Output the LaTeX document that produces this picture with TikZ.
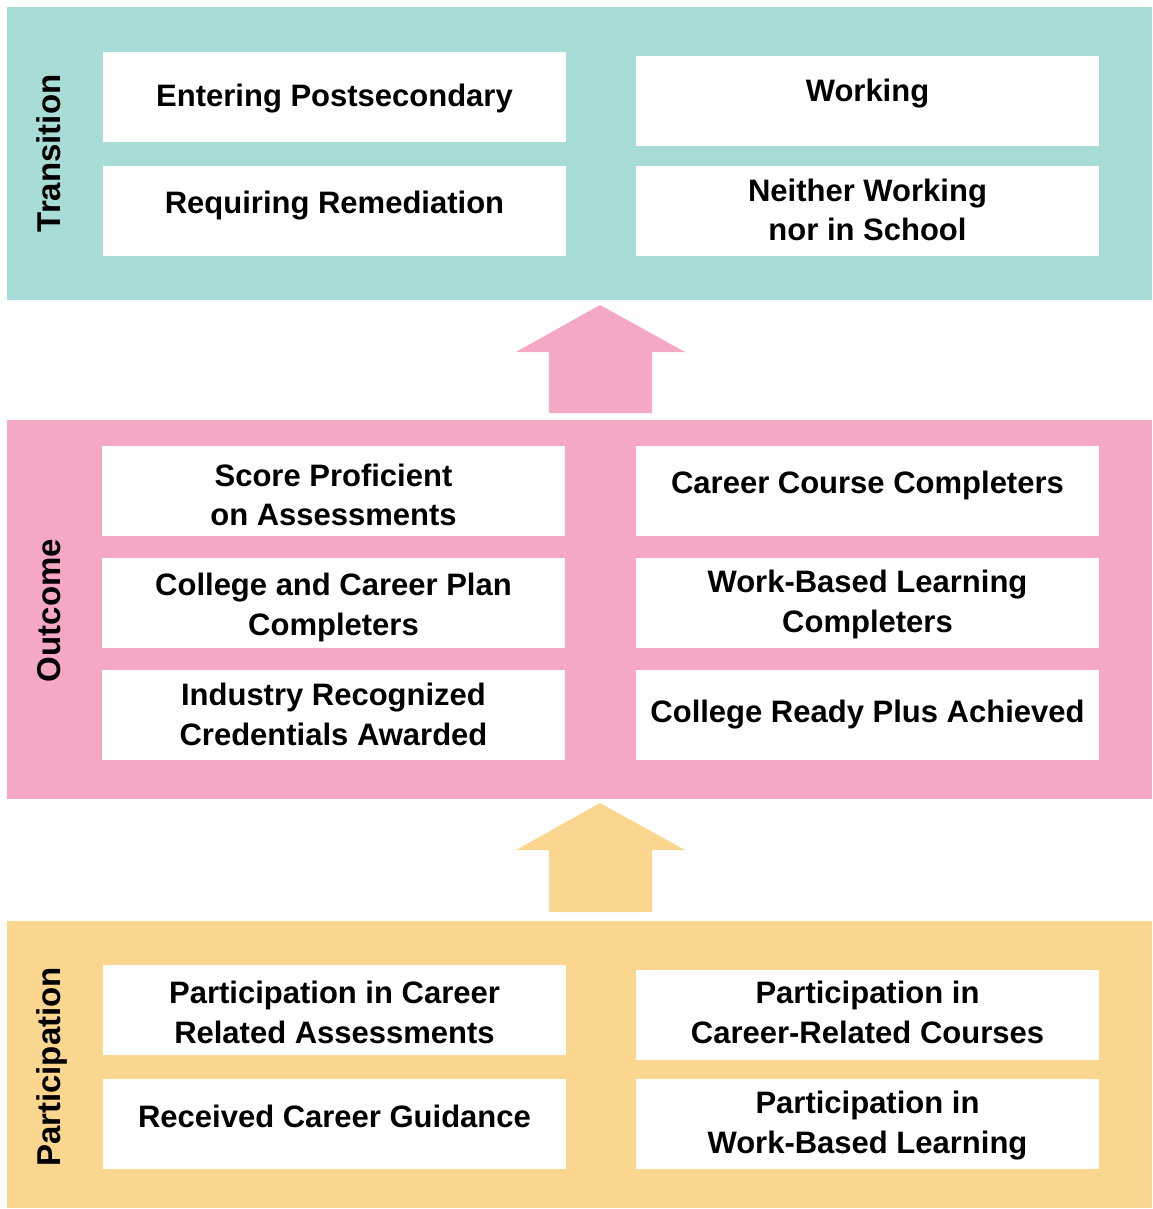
\documentclass[tikz,border=0pt]{standalone}
\usepackage{fontspec}
\setmainfont{Liberation Sans}
\definecolor{tealbg}{HTML}{A8DCD6}
\definecolor{pinkbg}{HTML}{F5A8C6}
\definecolor{yellowbg}{HTML}{FBD68F}
\newcommand\sline[1]{\smash{#1}}
\begin{document}
\begin{tikzpicture}[x=1pt,y=-1pt,
  panel/.style={inner sep=0pt, outer sep=0pt, minimum width=1145pt},
  wbox/.style={fill=white, inner sep=0pt, outer sep=0pt, minimum width=463pt, minimum height=90pt},
  btext/.style={inner sep=0pt, align=center, font=\fontsize{31}{39.5}\selectfont\bfseries},
  side/.style={inner sep=0pt, rotate=90, anchor=base, font=\fontsize{33}{40}\selectfont\bfseries},
  uparrow/.style={draw=none}]
\useasboundingbox (0,0) rectangle (1152,1209);
% panels
\node[panel, fill=tealbg, minimum height=293pt] (ptrans) at (579.5,153.5) {};
\node[panel, fill=pinkbg, minimum height=379pt] (pout) at (579.5,609.5) {};
\node[panel, fill=yellowbg, minimum height=287pt] (ppart) at (579.5,1064.5) {};
% side labels
\node[side] (ltrans) at (60,153.5) {Transition};
\node[side] (lout) at (60,610.5) {Outcome};
\node[side] (lpart) at (60,1067) {Participation};
% block arrows
\fill[pinkbg, uparrow] (600,305) -- (685,352) -- (652,352) -- (652,413) -- (549,413) -- (549,352) -- (516,352) -- cycle;
\fill[yellowbg, uparrow] (600,803) -- (685,850) -- (652,850) -- (652,912) -- (549,912) -- (549,850) -- (516,850) -- cycle;
% transition boxes
\node[wbox] (tb1) at (334.5,97) {};
\node[wbox] (tb2) at (334.5,211) {};
\node[wbox] (tb3) at (867.5,101) {};
\node[wbox] (tb4) at (867.5,211) {};
\node[btext] (tt1) at (334.5,107) {\sline{Entering Postsecondary}};
\node[btext] (tt2) at (334.5,213) {\sline{Requiring Remediation}};
\node[btext] (tt3) at (867.5,102) {\sline{Working}};
\node[btext] (tt4) at (867.5,221) {\sline{Neither Working}\\\sline{nor in School}};
% outcome boxes
\node[wbox] (ob1) at (333.5,491) {};
\node[wbox] (ob2) at (333.5,603) {};
\node[wbox] (ob3) at (333.5,715) {};
\node[wbox] (ob4) at (867.5,491) {};
\node[wbox] (ob5) at (867.5,603) {};
\node[wbox] (ob6) at (867.5,715) {};
\node[btext] (ot1) at (333.5,506) {\sline{Score Proficient}\\\sline{on Assessments}};
\node[btext] (ot2) at (333.5,615.5) {\sline{College and Career Plan}\\\sline{Completers}};
\node[btext] (ot3) at (333.5,725.5) {\sline{Industry Recognized}\\\sline{Credentials Awarded}};
\node[btext] (ot4) at (867.5,493) {\sline{Career Course Completers}};
\node[btext] (ot5) at (867.5,612.5) {\sline{Work-Based Learning}\\\sline{Completers}};
\node[btext] (ot6) at (867.5,722) {\sline{College Ready Plus Achieved}};
% participation boxes
\node[wbox] (pb1) at (334.5,1010) {};
\node[wbox] (pb2) at (334.5,1124) {};
\node[wbox] (pb3) at (867.5,1015) {};
\node[wbox] (pb4) at (867.5,1124) {};
\node[btext] (pt1) at (334.5,1023.5) {\sline{Participation in Career}\\\sline{Related Assessments}};
\node[btext] (pt2) at (334.5,1127) {\sline{Received Career Guidance}};
\node[btext] (pt3) at (867.5,1023.5) {\sline{Participation in}\\\sline{Career-Related Courses}};
\node[btext] (pt4) at (867.5,1133.5) {\sline{Participation in}\\\sline{Work-Based Learning}};
\end{tikzpicture}
\end{document}
